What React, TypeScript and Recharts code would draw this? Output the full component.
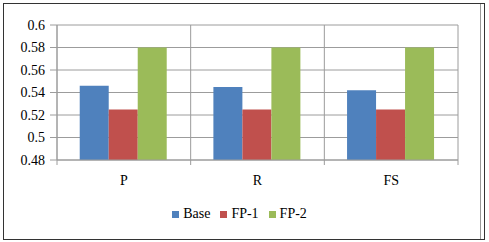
import { BarChart, Bar, XAxis, YAxis, CartesianGrid, Legend } from 'recharts';

// categories and series
const categories = ['P', 'R', 'FS'];
const baseValues = [0.546, 0.545, 0.542];
const fp1Values = [0.525, 0.525, 0.525];
const fp2Values = [0.58, 0.58, 0.58];
const yTicks = [0.48, 0.5, 0.52, 0.54, 0.56, 0.58, 0.6];

const data = categories.map((name, i) => ({
  name,
  Base: baseValues[i],
  'FP-1': fp1Values[i],
  'FP-2': fp2Values[i],
}));

const W = 489;
const H = 242;
const X_AXIS_H = 30;
const MARGIN = { top: 25, right: 31, bottom: 82 - X_AXIS_H, left: 0 };
const Y_AXIS_W = 57;
const FONT = '"Liberation Serif", "Times New Roman", Times, serif';
const GRID = '#9c9c9c';

// Excel-style category axis: label in the middle, tick marks on the boundaries
const CategoryTick = (props: any) => {
  const { x, y, payload, index } = props;
  const plotW = W - MARGIN.left - MARGIN.right - Y_AXIS_W;
  const band = plotW / categories.length;
  return (
    <g>
      <line x1={x - band / 2} x2={x - band / 2} y1={y} y2={y + 5} stroke={GRID} />
      {index === categories.length - 1 && (
        <line x1={x + band / 2} x2={x + band / 2} y1={y} y2={y + 5} stroke={GRID} />
      )}
      <text x={x} y={y + 25} textAnchor="middle" fontSize={14} fontFamily={FONT} fill="#000">
        {payload.value}
      </text>
    </g>
  );
};

const App = () => {
  return (
    <div style={{ position: 'absolute', left: 0, top: 0, width: W, height: H, background: '#fff', fontFamily: FONT }}>
      <div style={{ position: 'absolute', left: 3, top: 3, width: 480, height: 235, border: '1px solid #333' }} />
      <div style={{ position: 'absolute', left: 480, top: 4, width: 0, height: 235, borderLeft: '1px solid #999' }} />
      <BarChart
        width={W}
        height={H}
        data={data}
        margin={MARGIN}
        barCategoryGap="17%"
        barGap={0}
        style={{ position: 'absolute', left: 0, top: 0 }}
      >
        <CartesianGrid
          stroke={GRID}
          verticalCoordinatesGenerator={({ offset }: any) =>
            categories.map((_, i) => offset.left + (i * offset.width) / categories.length).concat(offset.left + offset.width)
          }
        />
        <XAxis
          dataKey="name"
          height={X_AXIS_H}
          stroke={GRID}
          tickSize={0}
          tickMargin={0}
          tickLine={false}
          tick={<CategoryTick />}
          interval={0}
        />
        <YAxis
          width={Y_AXIS_W}
          domain={[0.48, 0.6]}
          ticks={yTicks}
          interval={0}
          stroke={GRID}
          tickSize={7}
          tickMargin={5}
          tick={{ fill: '#000', fontSize: 14, fontFamily: FONT }}
          tickFormatter={(v: number) => String(v)}
          allowDataOverflow
        />
        <Legend
          layout="horizontal"
          verticalAlign="middle"
          align="center"
          iconType="square"
          iconSize={7}
          wrapperStyle={{ top: 205, left: 0, width: W, fontSize: 14, fontFamily: FONT, lineHeight: '18px' }}
          formatter={(v: string) => <span style={{ color: '#000' }}>{v}</span>}
        />
        <Bar dataKey="Base" fill="#4F81BD" isAnimationActive={false} />
        <Bar dataKey="FP-1" fill="#C0504D" isAnimationActive={false} />
        <Bar dataKey="FP-2" fill="#9BBB59" isAnimationActive={false} />
      </BarChart>
    </div>
  );
};

export default App;
